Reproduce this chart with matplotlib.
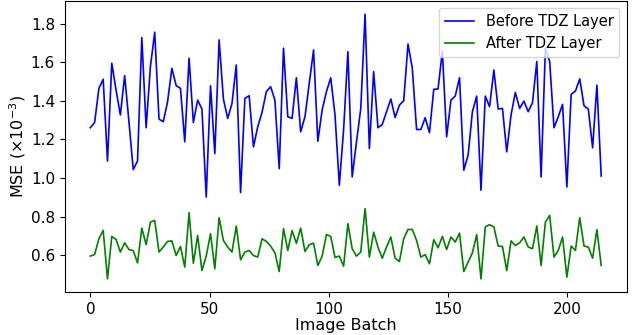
''' MSE per image batch, before and after the TDZ layer. '''

import numpy as np
from matplotlib import pyplot as plt

# MSE values in units of 1e-3.
before = [
	1.260, 1.287, 1.464, 1.511, 1.087, 1.594, 1.455, 1.326, 1.530, 1.291,
	1.043, 1.088, 1.727, 1.260, 1.577, 1.755, 1.305, 1.291, 1.395, 1.568,
	1.478, 1.464, 1.187, 1.620, 1.287, 1.403, 1.357, 0.901, 1.478, 1.126,
	1.715, 1.409, 1.308, 1.386, 1.585, 0.924, 1.412, 1.426, 1.161, 1.265,
	1.340, 1.447, 1.473, 1.403, 1.048, 1.672, 1.317, 1.308, 1.519, 1.239,
	1.317, 1.490, 1.663, 1.190, 1.352, 1.447, 1.519, 1.326, 0.962, 1.250,
	1.654, 1.005, 1.187, 1.360, 1.848, 1.152, 1.551, 1.260, 1.277, 1.343,
	1.409, 1.313, 1.377, 1.400, 1.694, 1.568, 1.251, 1.251, 1.312, 1.234,
	1.459, 1.461, 1.658, 1.213, 1.403, 1.424, 1.519, 1.040, 1.118, 1.343,
	1.424, 0.936, 1.424, 1.369, 1.559, 1.357, 1.360, 1.135, 1.326, 1.443,
	1.360, 1.398, 1.343, 1.390, 1.603, 1.005, 1.672, 1.603, 1.260, 1.317,
	1.381, 0.953, 1.433, 1.450, 1.513, 1.374, 1.357, 1.156, 1.481, 1.010,
]
after = [
	0.595, 0.603, 0.685, 0.728, 0.477, 0.697, 0.681, 0.616, 0.664, 0.629,
	0.623, 0.560, 0.740, 0.654, 0.771, 0.780, 0.616, 0.642, 0.671, 0.674,
	0.598, 0.645, 0.538, 0.820, 0.558, 0.702, 0.520, 0.595, 0.711, 0.529,
	0.794, 0.676, 0.642, 0.616, 0.751, 0.576, 0.616, 0.624, 0.598, 0.590,
	0.685, 0.671, 0.647, 0.612, 0.515, 0.737, 0.624, 0.728, 0.661, 0.740,
	0.619, 0.654, 0.662, 0.546, 0.595, 0.707, 0.697, 0.588, 0.595, 0.543,
	0.763, 0.633, 0.595, 0.616, 0.841, 0.590, 0.719, 0.642, 0.584, 0.642,
	0.694, 0.584, 0.567, 0.685, 0.733, 0.733, 0.676, 0.590, 0.603, 0.555,
	0.680, 0.638, 0.697, 0.629, 0.694, 0.668, 0.714, 0.515, 0.564, 0.612,
	0.706, 0.477, 0.746, 0.758, 0.746, 0.647, 0.645, 0.520, 0.674, 0.650,
	0.664, 0.694, 0.642, 0.633, 0.751, 0.546, 0.771, 0.806, 0.590, 0.624,
	0.694, 0.486, 0.647, 0.624, 0.794, 0.647, 0.642, 0.584, 0.732, 0.546,
]
batchStep = 1.8
labels = ['Before TDZ Layer', 'After TDZ Layer']

def drawChart():
	batch = np.arange(len(before)) * batchStep
	fig = plt.figure(figsize=(6.35, 3.35), dpi=100)
	ax = fig.add_axes([0.102, 0.128, 0.885, 0.869])
	ax.plot(batch, before, color='blue', linewidth=1.2, label=labels[0])
	ax.plot(batch, after, color='green', linewidth=1.2, label=labels[1])
	ax.set_xlabel('Image Batch', fontsize=11.5, labelpad=1)
	ax.set_ylabel(r'MSE ($\times 10^{-3}$)', fontsize=11.5, labelpad=2)
	ax.set_xticks([0, 50, 100, 150, 200])
	ax.set_yticks([0.6, 0.8, 1.0, 1.2, 1.4, 1.6, 1.8])
	ax.tick_params(labelsize=11)
	ax.legend(loc='upper right', fontsize=10.5)
	return fig

if __name__ == '__main__':
	fig = drawChart()
	fig.savefig('out.png', dpi=100)
